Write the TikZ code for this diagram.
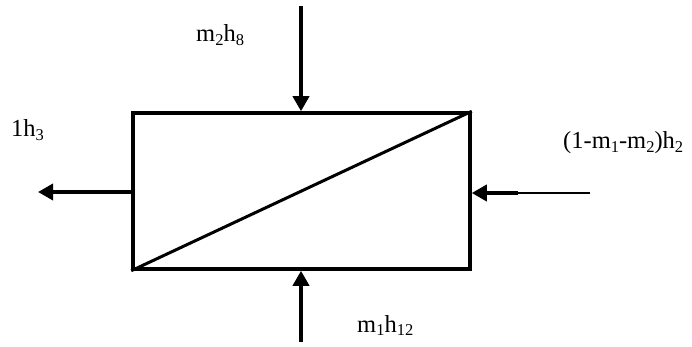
\documentclass[tikz,border=0pt]{standalone}
\usepackage{fontspec}
\setmainfont{Liberation Serif}
\usetikzlibrary{arrows.meta}
\newcommand\sbs[1]{\raisebox{-0.13em}{\fontsize{16.5}{16.5}\selectfont #1}}
\tikzset{
  flow/.style={line width=3.5pt,-{Triangle[width=16pt,length=15pt]}},
  thinflow/.style={line width=1.8pt},
  lbl/.style={anchor=base west,inner sep=0pt,font=\fontsize{24.5}{24.5}\selectfont},
  hx/.style={draw,line width=3.5pt,minimum width=337pt,minimum height=156pt,inner sep=0pt}
}
\begin{document}
\begin{tikzpicture}[x=1pt,y=-1pt]
\useasboundingbox (0,0) rectangle (692,347);
\node[hx] (box) at (301.5,191) {};
\draw[line width=3pt] (box.south west) -- (box.north east);
\coordinate (top) at (301,6);
\coordinate (bot) at (301,342);
\coordinate (lft) at (38,192);
\coordinate (rgt) at (590,193);
\coordinate (rmid) at (518,193);
\draw[flow] (top) -- (box.north -| top);
\draw[flow] (bot) -- (box.south -| bot);
\draw[flow] (box.west |- lft) -- (lft);
\draw[thinflow] (rgt) -- (rmid);
\draw[flow] (rmid) -- (box.east |- rmid);
\node[lbl] (l1) at (196,42) {m\sbs{2}h\sbs{8}};
\node[lbl] (l2) at (11,137) {1h\sbs{3}};
\node[lbl] (l3) at (563,149) {(1-m\sbs{1}-m\sbs{2})h\sbs{2}};
\node[lbl] (l4) at (357,332) {m\sbs{1}h\sbs{12}};
\end{tikzpicture}
\end{document}
